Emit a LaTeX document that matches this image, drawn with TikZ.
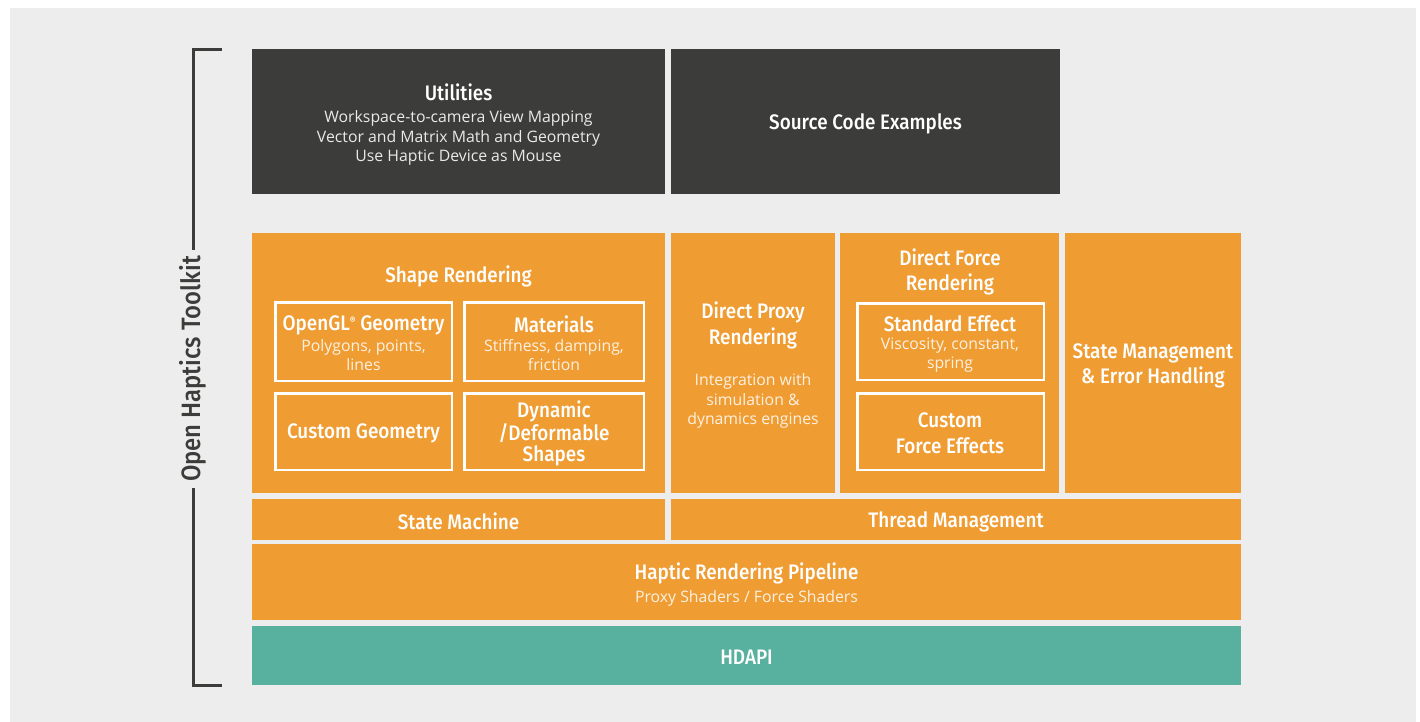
\documentclass[tikz,border=0pt]{standalone}
\usepackage{fontspec}
\setmainfont{Open Sans}
\newfontfamily\tfont{Fira Sans Medium}[FakeStretch=0.9]
\definecolor{bgc}{HTML}{EDEDED}
\definecolor{darkc}{HTML}{3C3C3A}
\definecolor{orangec}{HTML}{EF9C33}
\definecolor{tealc}{HTML}{58B09F}
\definecolor{subo}{HTML}{FDF1E2}
\definecolor{subd}{HTML}{EAEAEA}
\newcommand\bx[6]{\node[#6, minimum width={#4-#2}, minimum height={#5-#3}] (#1) at ({(#2+#4)/2},{(#3+#5)/2}) {};}
\newcommand\wbx[5]{\node[wb, minimum width={#4-#2-2.5}, minimum height={#5-#3-2.5}] (#1) at ({(#2+#4)/2},{(#3+#5)/2}) {};}
\tikzset{
  blk/.style={inner sep=0pt, outer sep=0pt, draw=none},
  dk/.style={blk, fill=darkc},
  og/.style={blk, fill=orangec},
  tl/.style={blk, fill=tealc},
  wb/.style={inner sep=0pt, outer sep=0pt, draw=white, line width=2.5pt},
  ttl/.style={text=white, align=center, inner sep=0pt, font=\tfont\fontsize{21}{25.5}\selectfont},
  sub/.style={text=subo, align=center, inner sep=0pt, font=\fontsize{15.8}{19.5}\selectfont},
  subdk/.style={sub, text=subd},
  brk/.style={draw=darkc, line width=3pt},
}
\begin{document}
\begin{tikzpicture}[x=1pt,y=-1pt]
\useasboundingbox (0,0) rectangle (1420,722);
\fill[bgc] (10,8) rectangle (1416,722);
% bracket
\coordinate (bt) at (222,50);
\coordinate (btl) at (193,50);
\coordinate (bbl) at (193,685);
\coordinate (bb) at (222,685);
\draw[brk] (bt) -- (btl) -- (bbl) -- (bb);
\node[fill=bgc, rotate=90, inner xsep=6pt, inner ysep=0pt, text=darkc, font=\tfont\fontsize{26.5}{30}\selectfont] (otk) at (193,369) {Open Haptics Toolkit};
% main boxes
\bx{util}{252}{49}{665}{194}{dk}
\bx{src}{671}{49}{1060}{194}{dk}
\bx{shape}{252}{233}{665}{493}{og}
\bx{proxy}{671}{233}{835}{493}{og}
\bx{force}{840}{233}{1059}{493}{og}
\bx{state}{1065}{233}{1241}{493}{og}
\bx{smach}{252}{499}{665}{540}{og}
\bx{thread}{671}{499}{1241}{540}{og}
\bx{pipe}{252}{544}{1241}{620}{og}
\bx{hdapi}{252}{626}{1241}{685}{tl}
% inner white boxes
\wbx{ogl}{274}{301}{453}{382}
\wbx{mat}{463}{301}{645}{382}
\wbx{cgeo}{274}{392}{453}{471}
\wbx{dyn}{463}{392}{645}{471}
\wbx{std}{856}{302}{1045}{381}
\wbx{cfe}{856}{392}{1045}{471}
% texts
\node[ttl] (utit) at (458.5,92.5) {Utilities};
\node[subdk] (usub) at (458.5,138) {Workspace-to-camera View Mapping\\Vector and Matrix Math and Geometry\\Use Haptic Device as Mouse};
\node[ttl] (srctit) at (865.5,124) {Source Code Examples};
\node[ttl] (srtit) at (458.5,276) {Shape Rendering};
\node[ttl] (ogltit) at (363.5,325) {OpenGL{\fontsize{10}{10}\selectfont\raisebox{6pt}{®}} Geometry};
\node[sub] (oglsub) at (363.5,355) {Polygons, points,\\lines};
\node[ttl] (mattit) at (554,324) {Materials};
\node[sub] (matsub) at (554,355) {Stiffness, damping,\\friction};
\node[ttl] (cgeotit) at (363.5,433.5) {Custom Geometry};
\node[ttl, font=\tfont\fontsize{21}{21}\selectfont] (dyntit) at (554,433.5) {Dynamic\\/Deformable\\Shapes};
\node[ttl] (proxytit) at (753,325.5) {Direct Proxy\\Rendering};
\node[sub] (proxysub) at (753,401) {Integration with\\simulation \&\\dynamics engines};
\node[ttl] (forcetit) at (950,272) {Direct Force\\Rendering};
\node[ttl] (stdtit) at (950,324) {Standard Effect};
\node[sub] (stdsub) at (950,355) {Viscosity, constant,\\spring};
\node[ttl] (cfetit) at (950,433) {Custom\\Force Effects};
\node[ttl] (statetit) at (1153,366) {State Management\\\& Error Handling};
\node[ttl] (smtit) at (458.5,521) {State Machine};
\node[ttl] (thtit) at (956,522) {Thread Management};
\node[ttl] (pipetit) at (746.5,573) {Haptic Rendering Pipeline};
\node[sub] (pipesub) at (746.5,598.5) {Proxy Shaders / Force Shaders};
\node[ttl] (hdtit) at (746.5,657.5) {HDAPI};
\end{tikzpicture}
\end{document}
